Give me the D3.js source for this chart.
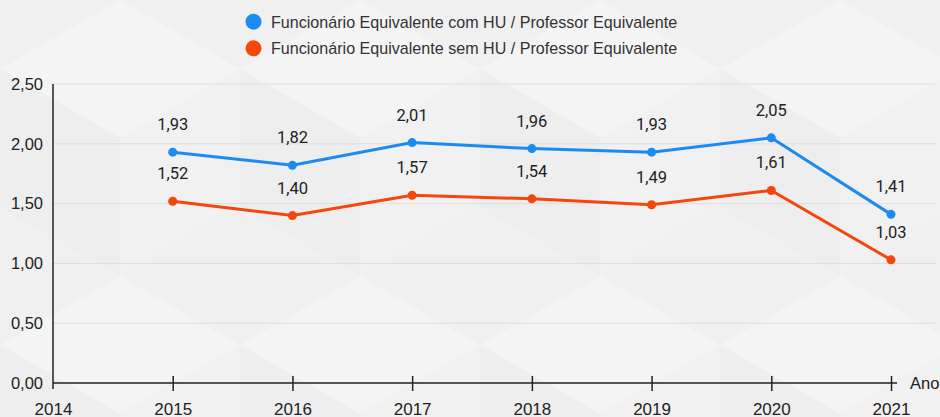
<!DOCTYPE html>
<html>
<head>
<meta charset="utf-8">
<script src="https://cdn.jsdelivr.net/npm/d3@7"></script>
<style>
  body { margin: 0; background: #f1f1f1; }
  svg { display: block; font-family: "Liberation Sans", Arial, sans-serif; }
</style>
</head>
<body>
<div id="chart"></div>
<script>
// Dados
const anos = [2015, 2016, 2017, 2018, 2019, 2020, 2021];
const comHU = [1.93, 1.82, 2.01, 1.96, 1.93, 2.05, 1.41];
const semHU = [1.52, 1.40, 1.57, 1.54, 1.49, 1.61, 1.03];
const yTicks = [0, 0.5, 1, 1.5, 2, 2.5];
const xTicks = [2014, 2015, 2016, 2017, 2018, 2019, 2020, 2021];
const series = [
  { nome: "Funcionário Equivalente com HU / Professor Equivalente", valores: comHU, cor: "#1b8bf2" },
  { nome: "Funcionário Equivalente sem HU / Professor Equivalente", valores: semHU, cor: "#f5470b" }
];

const width = 940, height = 417;
const fmt = v => d3.format(".2f")(v).replace(".", ",");
const eixoFonte = "'Liberation Sans', Arial, sans-serif";

const svg = d3.select("#chart").append("svg")
  .attr("width", width)
  .attr("height", height);

// Fundo com padrão de cubos bem suave
const defs = svg.append("defs");
const pat = defs.append("pattern")
  .attr("id", "cubos")
  .attr("patternUnits", "userSpaceOnUse")
  .attr("width", 240).attr("height", 276);
pat.append("rect").attr("width", 240).attr("height", 276).attr("fill", "#f0f0f0");
[
  { pts: "120,0 240,69 120,138 0,69", c: "#f4f4f4" },
  { pts: "0,69 120,138 120,276 0,207", c: "#eeeeee" },
  { pts: "240,69 120,138 120,276 240,207", c: "#f1f1f1" }
].forEach(p => pat.append("polygon").attr("points", p.pts).attr("fill", p.c));

svg.append("rect")
  .attr("width", width).attr("height", height)
  .attr("fill", "url(#cubos)");

// Escalas
const x = d3.scaleLinear().domain([2014, 2021]).range([53, 891]);
const y = d3.scaleLinear().domain([0, 2.5]).range([383, 84]);

// Grade horizontal
svg.append("g")
  .selectAll("line")
  .data(yTicks.filter(d => d > 0))
  .enter().append("line")
  .attr("x1", x(2014)).attr("x2", 936)
  .attr("y1", d => y(d)).attr("y2", d => y(d))
  .attr("stroke", "#dddddd").attr("stroke-width", 1);

// Eixo Y
const yAxis = svg.append("g")
  .attr("transform", `translate(${x(2014)},0)`)
  .call(d3.axisLeft(y).tickValues(yTicks).tickFormat(fmt).tickSize(0).tickPadding(10));
yAxis.select(".domain").attr("stroke", "#222").attr("stroke-width", 1.5)
  .attr("d", `M0,${y(2.5)}V${y(0) + 6}`);
yAxis.selectAll("text").attr("font-size", 16.5).attr("fill", "#222")
  .attr("font-family", eixoFonte);

// Eixo X
const xAxis = svg.append("g")
  .attr("transform", `translate(0,${y(0)})`)
  .call(d3.axisBottom(x).tickValues(xTicks).tickFormat(d3.format("d")).tickSize(0));
xAxis.select(".domain").attr("stroke", "#222").attr("stroke-width", 1.5)
  .attr("d", `M${x(2014)},0H${x(2021) + 6}`);
xAxis.selectAll("text").attr("font-size", 17).attr("fill", "#222")
  .attr("font-family", eixoFonte)
  .attr("dy", null).attr("y", 31.5);
xAxis.selectAll(".tick").filter(d => d > 2014)
  .append("line").attr("y1", -7).attr("y2", 8)
  .attr("stroke", "#222").attr("stroke-width", 1.5);

svg.append("text")
  .attr("x", 910).attr("y", y(0) + 5.5)
  .attr("font-size", 16.5).attr("fill", "#222")
  .text("Ano");

// Linhas e pontos
const line = d3.line()
  .x((d, i) => x(anos[i]))
  .y(d => y(d));

series.forEach(s => {
  svg.append("path")
    .datum(s.valores)
    .attr("d", line)
    .attr("fill", "none")
    .attr("stroke", s.cor)
    .attr("stroke-width", 3);

  svg.append("g").selectAll("circle")
    .data(s.valores)
    .enter().append("circle")
    .attr("cx", (d, i) => x(anos[i]))
    .attr("cy", d => y(d))
    .attr("r", 4.5)
    .attr("fill", s.cor);

  svg.append("g").selectAll("text")
    .data(s.valores)
    .enter().append("text")
    .attr("x", (d, i) => x(anos[i]))
    .attr("y", d => y(d) - 22)
    .attr("text-anchor", "middle")
    .attr("font-family", "Roboto, 'Noto Sans', sans-serif")
    .attr("font-size", 16.5)
    .attr("fill", "#222")
    .text(fmt);
});

// Legenda
const legend = svg.append("g").attr("transform", "translate(253.5,21.7)");
series.forEach((s, i) => {
  const g = legend.append("g").attr("transform", `translate(0,${i * 26.6})`);
  g.append("circle").attr("r", 8).attr("fill", s.cor);
  g.append("text")
    .attr("x", 17.5).attr("y", 5.8)
    .attr("font-size", 16.1).attr("fill", "#333")
    .text(s.nome);
});
</script>
</body>
</html>
